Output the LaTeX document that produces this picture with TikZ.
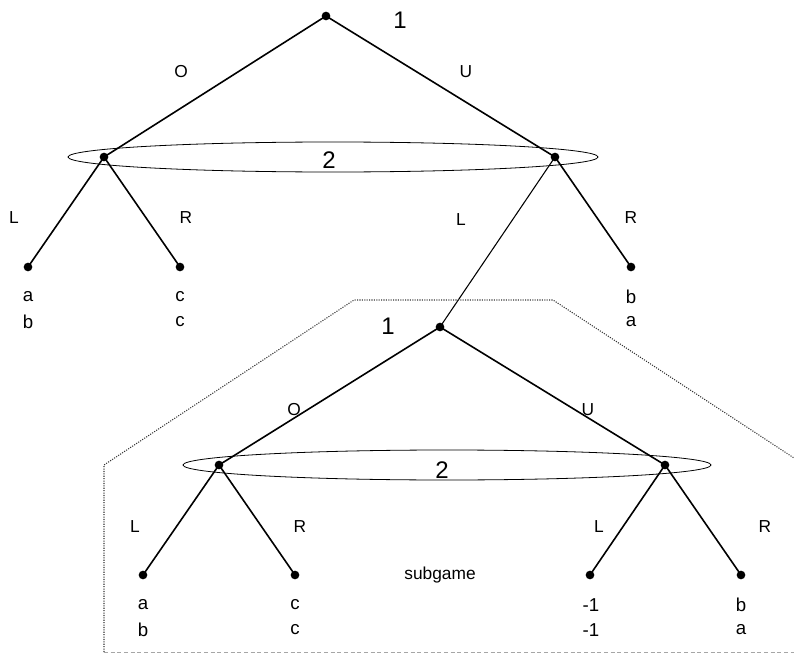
\documentclass[tikz,border=0pt]{standalone}
\usepackage{fontspec}
\setmainfont{Liberation Sans}
\begin{document}
\begin{tikzpicture}[x=0.75pt,y=-0.75pt,
  dec/.style={circle,fill=black,inner sep=0pt,minimum size=6.5pt},
  edge/.style={line width=1.2pt},
  lab/.style={font=\fontsize{13}{15}\selectfont,inner sep=0pt},
  pay/.style={font=\fontsize{14}{16}\selectfont,inner sep=0pt},
  big/.style={font=\fontsize{18}{21}\selectfont,inner sep=0pt},
  info/.style={draw,line width=0.6pt},
  border/.style={line width=0.8pt,densely dotted,black!80}]
\useasboundingbox (0,0) rectangle (794,653);

% upper game
\node[dec] (r) at (326,16) {};
\node[dec] (a) at (104,157) {};
\node[dec] (b) at (555,157) {};
\node[dec] (a1) at (28,267) {};
\node[dec] (a2) at (180,267) {};
\node[dec] (b2) at (631,267) {};
\draw[info] (333,157) ellipse [x radius=265, y radius=15];
\draw[edge] (r.center) -- (a.center);
\draw[edge] (r.center) -- (b.center);
\draw[edge] (a.center) -- (a1.center);
\draw[edge] (a.center) -- (a2.center);
\draw[edge] (b.center) -- (b2.center);
\node[big] (l1) at (400,20) {1};
\node[big] (l2) at (329,160) {2};
\node[lab] (eo) at (181,72) {O};
\node[lab] (eu) at (466,72) {U};
\node[lab] (el1) at (14,218) {L};
\node[lab] (er1) at (186,218) {R};
\node[lab] (el2) at (461,220) {L};
\node[lab] (er2) at (631,218) {R};
\node[pay] (p1) at (28,297) {a};
\node[pay] (p2) at (28,322) {b};
\node[pay] (p3) at (180,297) {c};
\node[pay] (p4) at (180,322) {c};
\node[pay] (p5) at (631,297) {b};
\node[pay] (p6) at (631,322) {a};

% subgame
\node[dec] (s) at (440,327) {};
\node[dec] (c) at (219,465) {};
\node[dec] (d) at (665,465) {};
\node[dec] (c1) at (143,575) {};
\node[dec] (c2) at (295,575) {};
\node[dec] (d1) at (590,575) {};
\node[dec] (d2) at (741,575) {};
\draw[line width=0.8pt] (b.center) -- (s.center);
\draw[info] (447,465) ellipse [x radius=264, y radius=15];
\draw[edge] (s.center) -- (c.center);
\draw[edge] (s.center) -- (d.center);
\draw[edge] (c.center) -- (c1.center);
\draw[edge] (c.center) -- (c2.center);
\draw[edge] (d.center) -- (d1.center);
\draw[edge] (d.center) -- (d2.center);
\node[big] (m1) at (388,326) {1};
\node[big] (m2) at (442,470) {2};
\node[lab] (fo) at (294,410) {O};
\node[lab] (fu) at (588,410) {U};
\node[lab] (fl1) at (135,527) {L};
\node[lab] (fr1) at (300,527) {R};
\node[lab] (fl2) at (599,527) {L};
\node[lab] (fr2) at (765,527) {R};
\node[pay] (q1) at (143,605) {a};
\node[pay] (q2) at (143,630) {b};
\node[pay] (q3) at (295,605) {c};
\node[pay] (q4) at (295,630) {c};
\node[pay] (q5) at (591,605) {-1};
\node[pay] (q6) at (591,630) {-1};
\node[pay] (q7) at (741,605) {b};
\node[pay] (q8) at (741,630) {a};
\node[lab] (sg) at (440,575) {subgame};

% subgame frame
\coordinate (f1) at (104,652);
\coordinate (f2) at (104,465);
\coordinate (f3) at (354,300);
\coordinate (f4) at (553,300);
\coordinate (f5) at (794,458);
\coordinate (f6) at (794,652);
\draw[border] (f1) -- (f2) -- (f3) -- (f4) -- (f5);
\draw[line width=0.6pt,densely dashed,black!35] (f1) -- (f6);
\end{tikzpicture}
\end{document}
